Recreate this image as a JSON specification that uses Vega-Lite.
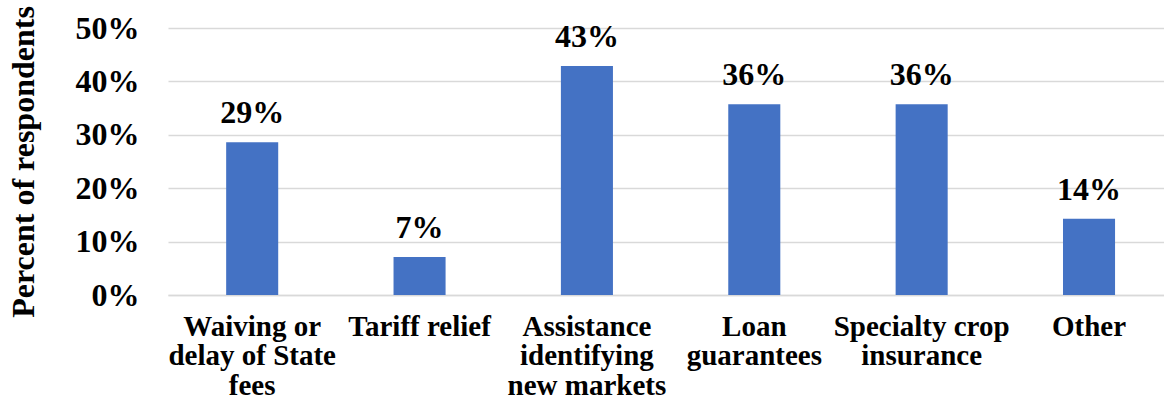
{
  "$schema": "https://vega.github.io/schema/vega-lite/v6.json",
  "width": 996,
  "height": 267,
  "autosize": {"type": "none"},
  "padding": {"left": 168, "top": 28, "right": 0, "bottom": 105},
  "background": "white",
  "config": {
    "view": {"stroke": null},
    "font": "Liberation Serif"
  },
  "data": {
    "values": [
      {"category": "Waiving or delay of State fees", "share": 0.286},
      {"category": "Tariff relief", "share": 0.071},
      {"category": "Assistance identifying new markets", "share": 0.429},
      {"category": "Loan guarantees", "share": 0.357},
      {"category": "Specialty crop insurance", "share": 0.357},
      {"category": "Other", "share": 0.143}
    ]
  },
  "encoding": {
    "x": {
      "field": "category",
      "type": "nominal",
      "sort": null,
      "scale": {"paddingInner": 0.689, "paddingOuter": 0.32, "align": 0.543},
      "axis": {
        "title": null,
        "labelAngle": 0,
        "labelFont": "Liberation Serif",
        "labelFontSize": 29,
        "labelFontWeight": "bold",
        "labelColor": "#000000",
        "labelLineHeight": 29.5,
        "labelPadding": 17,
        "labelLimit": 400,
        "ticks": false,
        "domain": true,
        "domainColor": "#d9d9d9",
        "domainWidth": 1.5,
        "labelExpr": "datum.value == 'Waiving or delay of State fees' ? ['Waiving or', 'delay of State', 'fees'] : datum.value == 'Assistance identifying new markets' ? ['Assistance', 'identifying', 'new markets'] : datum.value == 'Loan guarantees' ? ['Loan', 'guarantees'] : datum.value == 'Specialty crop insurance' ? ['Specialty crop', 'insurance'] : datum.value"
      }
    },
    "y": {
      "field": "share",
      "type": "quantitative",
      "scale": {"domain": [0, 0.5], "nice": false},
      "axis": {
        "title": "Percent of respondents",
        "titleFont": "Liberation Serif",
        "titleFontSize": 32,
        "titleFontWeight": "bold",
        "titleColor": "#000000",
        "titlePadding": 35,
        "format": ".0%",
        "values": [0, 0.1, 0.2, 0.3, 0.4, 0.5],
        "labelFont": "Liberation Serif",
        "labelFontSize": 32,
        "labelFontWeight": "bold",
        "labelColor": "#000000",
        "labelPadding": 29,
        "ticks": false,
        "domain": false,
        "grid": true,
        "gridColor": "#d9d9d9",
        "gridWidth": 1.5
      }
    }
  },
  "layer": [
    {"mark": {"type": "bar", "color": "#4472C4"}},
    {
      "mark": {
        "type": "text",
        "baseline": "alphabetic",
        "dy": -19,
        "font": "Liberation Serif",
        "fontSize": 32,
        "fontWeight": "bold",
        "color": "#000000"
      },
      "encoding": {
        "text": {"field": "share", "type": "quantitative", "format": ".0%"}
      }
    }
  ]
}
